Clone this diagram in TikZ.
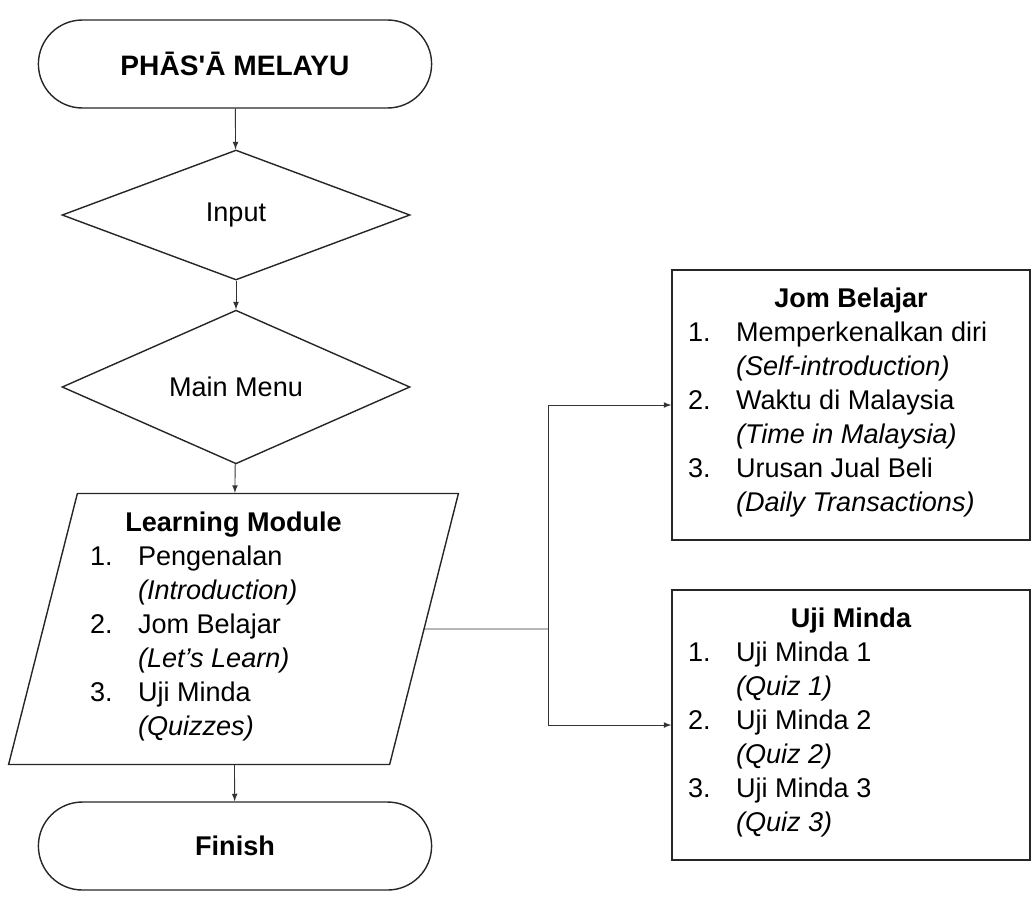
\documentclass[tikz,border=0pt]{standalone}
\usepackage{fontspec}
\setmainfont{Liberation Sans}[Ligatures=TeXOff]
\usepackage{array}
\usetikzlibrary{shapes.geometric,shapes.misc}
\newcommand\chartfont{\fontsize{15.4pt}{19.35pt}\selectfont}
\tikzset{
  terminal/.style={rounded rectangle, draw=black!85, line width=0.8pt, minimum width=8.1cm, minimum height=1.76cm, font=\chartfont\bfseries},
  decision/.style={diamond, draw=black!85, line width=0.8pt, minimum width=6.96cm, minimum height=2.6cm, inner sep=0pt, font=\chartfont},
  inout/.style={trapezium, trapezium left angle=75, trapezium right angle=105, trapezium stretches=true, draw=black!85, line width=0.8pt, minimum width=9.02cm, minimum height=5.42cm, align=center, font=\chartfont},
  listbox/.style={rectangle, draw=black!85, line width=0.8pt, minimum width=7.16cm, minimum height=5.4cm, align=center, font=\chartfont},
  flow/.style={->, line width=0.5pt, draw=black!80}
}
\begin{document}
\begin{tikzpicture}[x=0.02cm, y=-0.02cm, >=latex]
  \useasboundingbox (0,0) rectangle (1033,900);
  \node[terminal, font=\fontsize{16pt}{19.35pt}\selectfont\bfseries] (start) at (235,64) {PHĀS'Ā MELAYU};
  \node[decision] (input) at (236,215) {Input};
  \node[decision] (menu) at (236,387) {Main Menu};
  \node[inout] (module) at (233.5,629) {\textbf{Learning Module}\\
    \begin{tabular}[t]{@{}p{0.96cm}@{}p{4.78cm}@{}}
      1. & Pengenalan\\ & \textit{(Introduction)}\\
      2. & Jom Belajar\\ & \textit{(Let’s Learn)}\\
      3. & Uji Minda\\ & \textit{(Quizzes)}
    \end{tabular}};
  \node[terminal] (finish) at (235,846) {Finish};
  \node[listbox] (jom) at (851,405) {\textbf{Jom Belajar}\\
    \begin{tabular}[t]{@{}p{0.96cm}@{}p{5.56cm}@{}}
      1. & Memperkenalkan diri\\ & \textit{(Self-introduction)}\\
      2. & Waktu di Malaysia\\ & \textit{(Time in Malaysia)}\\
      3. & Urusan Jual Beli\\ & \textit{(Daily Transactions)}
    \end{tabular}};
  \node[listbox] (uji) at (851,725) {\textbf{Uji Minda}\\
    \begin{tabular}[t]{@{}p{0.96cm}@{}p{5.56cm}@{}}
      1. & Uji Minda 1\\ & \textit{(Quiz 1)}\\
      2. & Uji Minda 2\\ & \textit{(Quiz 2)}\\
      3. & Uji Minda 3\\ & \textit{(Quiz 3)}
    \end{tabular}};
  \coordinate (split) at (548,629);
  \draw[flow] (start) -- (input);
  \draw[flow] (input) -- (menu);
  \draw[flow] (menu) -- (module);
  \draw[flow] (module) -- (finish);
  \draw[line width=0.5pt, draw=black!80] (module.east) -- (split);
  \draw[flow] (split) |- (jom.west);
  \draw[flow] (split) |- (uji.west);
\end{tikzpicture}
\end{document}
